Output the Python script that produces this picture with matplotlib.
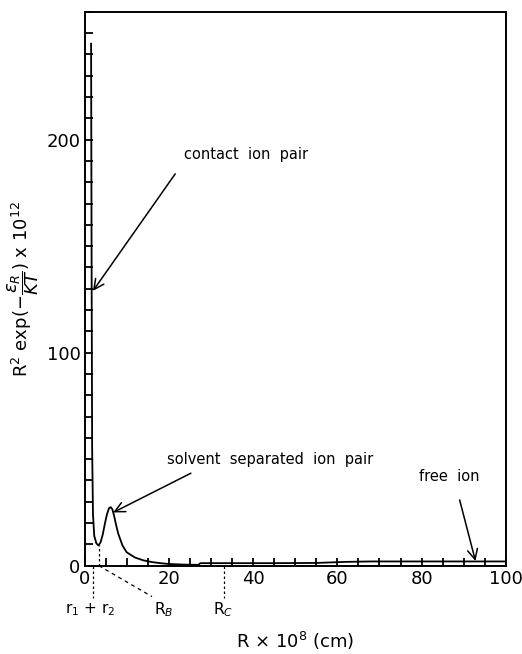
import matplotlib

matplotlib.use("Agg")
import matplotlib.pyplot as plt
from matplotlib.ticker import MultipleLocator

# radial distribution R^2 exp(-eps/kT) x 1e12 against R x 1e8 cm
r_vals = [1.55, 1.6, 1.7, 1.8, 2.0, 2.3, 2.8, 3.3, 3.8, 4.3, 4.8, 5.3, 5.8,
          6.2, 6.6, 7.0, 7.5, 8.0, 9.0, 10.0, 12.0, 14.0, 16.0, 18.0, 20.0,
          24.0, 27.0, 27.5, 35.0, 45.0, 55.0, 62.0, 68.0, 80.0, 90.0, 100.0]
w_vals = [245.0, 200.0, 120.0, 55.0, 24.0, 14.0, 10.5, 9.5, 11.0, 14.5, 19.5,
          24.0, 27.0, 27.5, 26.5, 23.5, 19.0, 15.0, 9.5, 6.3, 3.8, 2.5, 1.7,
          1.2, 0.8, 0.5, 0.4, 1.2, 1.2, 1.2, 1.3, 1.8, 2.0, 2.0, 2.0, 2.0]

r_contact = 2.0   # r1 + r2
r_b = 3.4         # minimum between the two ion-pair peaks
r_c = 33.0

fig = plt.figure(figsize=(5.22, 6.54), dpi=100)
ax = fig.add_axes([0.162, 0.135, 0.807, 0.847])

ax.plot(r_vals, w_vals, color="black", lw=1.3)

ax.set_xlim(0, 100)
ax.set_ylim(0, 260)
ax.xaxis.set_major_locator(MultipleLocator(20))
ax.xaxis.set_minor_locator(MultipleLocator(5))
ax.yaxis.set_major_locator(MultipleLocator(100))
ax.yaxis.set_minor_locator(MultipleLocator(10))
ax.tick_params(which="both", direction="in", length=6, width=1.3,
               top=False, right=False, labelsize=13, pad=3)
for s in ax.spines.values():
    s.set_linewidth(1.4)

ax.set_xlabel(r"R $\times$ 10$^{8}$ (cm)", fontsize=13, labelpad=30)
ax.set_ylabel(r"R$^2$ exp($-\dfrac{\epsilon_R}{KT}$) x 10$^{12}$",
              fontsize=13, labelpad=4)

arrow = dict(arrowstyle="->", color="black", lw=1.1, mutation_scale=18)
ax.annotate("contact  ion  pair", xy=(2.0, 129), xytext=(23.5, 193),
            fontsize=10.5, ha="left", va="center",
            arrowprops=dict(arrow, shrinkA=8, shrinkB=0, relpos=(0.0, 0.0)))
ax.annotate("solvent  separated  ion  pair", xy=(6.8, 25), xytext=(19.5, 50),
            fontsize=10.5, ha="left", va="center",
            arrowprops=dict(arrow, shrinkA=6, shrinkB=0,
                            relpos=(0.18, 0.0)))
ax.annotate("free  ion", xy=(92.8, 2.2), xytext=(86.6, 42),
            fontsize=10.5, ha="center", va="center",
            arrowprops=dict(arrow, shrinkA=10, shrinkB=0, relpos=(0.6, 0.0)))

# marker lines for the characteristic distances
ax.plot([r_b, r_b], [0, 9.5], color="black", lw=0.9, ls=(0, (2, 2)))
ax.plot([r_contact, r_contact], [0, -15], color="black", lw=0.9,
        ls=(0, (2, 2)), clip_on=False)
ax.plot([r_b, 16.0], [0, -14.5], color="black", lw=0.9,
        ls=(0, (3, 3)), clip_on=False)
ax.plot([r_c, r_c], [0, -15], color="black", lw=0.9,
        ls=(0, (2, 2)), clip_on=False)

ax.text(1.3, -20.5, r"r$_1$ + r$_2$", fontsize=11, ha="center", va="center")
ax.text(18.7, -20.5, r"R$_B$", fontsize=11, ha="center", va="center")
ax.text(32.9, -20.5, r"R$_C$", fontsize=11, ha="center", va="center")

fig.savefig("out.png", dpi=100)
